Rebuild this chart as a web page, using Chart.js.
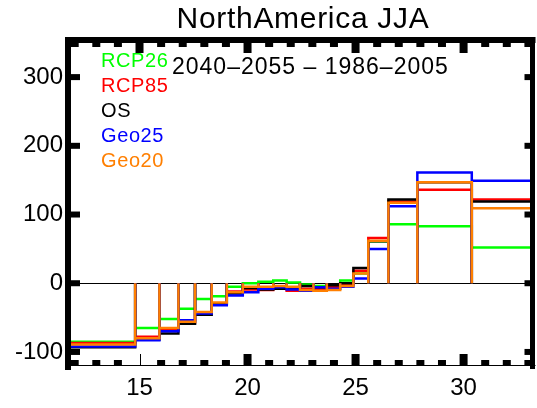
<!DOCTYPE html>
<html>
<head>
<meta charset="utf-8">
<script src="https://cdn.jsdelivr.net/npm/chart.js@4.4.6/dist/chart.umd.min.js"></script>
<style>
  html, body { margin: 0; padding: 0; background: #fff; }
  #wrap { width: 537px; height: 408px; position: relative; }
</style>
</head>
<body>
<div id="wrap"><canvas id="chart"></canvas></div>
<script>
// bin edges (x axis units) and the bin values for each run
const binEdges = [11.5, 14.8, 15.92, 16.8, 17.57, 18.34, 19.04, 19.78, 20.5, 21.19, 21.81,
  22.43, 23.05, 23.67, 24.29, 24.9, 25.59, 26.52, 27.86, 30.38, 34]
const rcp26 = [-85, -65, -52, -37, -23, -19, -5, 0, 2, 4, 1, -2, -4, -4, 4, 14, 61, 86, 83, 52]
const rcp85 = [-87, -78, -67, -57, -43, -29, -12, -9, -10, -6, -11, -8, -8, -5, -2, 18, 66, 119, 136, 122]
const os = [-93, -82, -73, -59, -46, -30, -15, -7, -9, -8, -7, -4, -6, -3, 0, 22, 61, 122, 147, 119]
const geo25 = [-92, -83, -70, -54, -44, -32, -18, -13, -8, -6, -9, -11, -6, -8, -5, 7, 50, 112, 161, 149]
const geo20 = [-89, -80, -65, -56, -42, -28, -13, -5, -5, -4, -5, -10, -11, -10, -4, 14, 62, 117, 147, 109]

const seriesNames = ["RCP26", "RCP85", "OS", "Geo25", "Geo20"]
const seriesColors = ["#00ff00", "#ff0000", "#000000", "#0000ff", "#ff7f00"]
const seriesValues = [rcp26, rcp85, os, geo25, geo20]

const xTicks = [15, 20, 25, 30]
const yTicks = [-100, 0, 100, 200, 300]
const xMinorTicks = [12, 13, 14, 16, 17, 18, 19, 21, 22, 23, 24, 26, 27, 28, 29, 31, 32, 33]

const titleText = "NorthAmerica JJA"
const subtitleText = "2040\u20132055 \u2013 1986\u20132005"
const FONT = "'Liberation Sans', Arial, Helvetica, sans-serif"

// each bin is an open box: up from zero, across, back down to zero
function histPoints(values) {
  const pts = []
  values.forEach((v, i) => {
    const x0 = binEdges[i], x1 = binEdges[i + 1]
    pts.push({ x: x0, y: 0 }, { x: x0, y: v }, { x: x1, y: v }, { x: x1, y: 0 })
  })
  return pts
}

// later series are drawn on top (Geo20 last), like the original plot
const datasets = seriesValues.map((values, i) => ({
  label: seriesNames[i],
  data: histPoints(values),
  order: seriesValues.length - i,
  borderColor: seriesColors[i],
  borderWidth: 2.5,
  pointRadius: 0,
  tension: 0,
  clip: 0,
  borderJoinStyle: "miter"
}))

function spacedText(ctx, text, x, y, spacing) {
  ctx.letterSpacing = spacing + "px"
  ctx.fillText(text, x, y)
  ctx.letterSpacing = "0px"
}

// IDL-style frame: thick left/top/right, thin bottom, heavy inward ticks
const framePlugin = {
  id: "frame",
  beforeDatasetsDraw(chart) {
    const { ctx, chartArea: a, scales } = chart
    const y0 = scales.y.getPixelForValue(0)
    ctx.save()
    ctx.strokeStyle = "#000"
    ctx.lineWidth = 1
    ctx.beginPath()
    ctx.moveTo(a.left, Math.round(y0) + 0.5)
    ctx.lineTo(a.right, Math.round(y0) + 0.5)
    ctx.stroke()
    ctx.restore()
  },
  afterDatasetsDraw(chart) {
    const { ctx, chartArea: a, scales } = chart
    ctx.save()
    ctx.fillStyle = "#000"
    // axes lines
    ctx.fillRect(a.left - 3, a.top - 3, a.right - a.left + 6, 6)
    ctx.fillRect(a.left - 3, a.top - 3, 6, a.bottom - a.top + 8)
    ctx.fillRect(a.right - 2.5, a.top - 3, 5, a.bottom - a.top + 7)
    ctx.fillRect(a.left - 3, a.bottom, a.right - a.left + 6, 1)
    // x ticks, bottom (pointing up) and top (pointing down)
    xTicks.forEach((v) => {
      const px = scales.x.getPixelForValue(v)
      if (v === 15) ctx.fillRect(Math.round(px), a.bottom - 11, 1, 11)
      else ctx.fillRect(px - 4, a.bottom - 11, 8, 11)
      ctx.fillRect(px - 4, a.top + 3, 8, 10)
    })
    xMinorTicks.forEach((v) => {
      const px = scales.x.getPixelForValue(v)
      ctx.fillRect(px - 4, a.bottom - 5, 8, 5)
      ctx.fillRect(px - 4, a.top + 3, 8, 4)
    })
    // y ticks, left and right
    yTicks.forEach((v) => {
      const py = scales.y.getPixelForValue(v)
      ctx.fillRect(a.left, py - 3, 12, 6)
      ctx.fillRect(a.right - 8, py - 3, 8, 6)
    })
    ctx.restore()
  },
  afterDraw(chart) {
    const { ctx } = chart
    ctx.save()
    ctx.textBaseline = "alphabetic"
    ctx.fillStyle = "#000"
    ctx.textAlign = "center"
    ctx.font = "30px " + FONT
    spacedText(ctx, titleText, 303, 28, 0.7)
    ctx.textAlign = "left"
    ctx.font = "23px " + FONT
    spacedText(ctx, subtitleText, 172, 74, 1)
    ctx.font = "20px " + FONT
    seriesNames.forEach((name, i) => {
      ctx.fillStyle = seriesColors[i]
      spacedText(ctx, name, 101, 67 + i * 25, 0.6)
    })
    ctx.restore()
  }
}

new Chart(document.getElementById("chart"), {
  type: "line",
  data: { datasets },
  plugins: [framePlugin],
  options: {
    responsive: true,
    maintainAspectRatio: false,
    animation: false,
    devicePixelRatio: 1,
    layout: { padding: { top: 40, right: 4.5, left: 0, bottom: 0 } },
    plugins: { legend: { display: false }, tooltip: { enabled: false } },
    scales: {
      x: {
        type: "linear",
        min: 11.69,
        max: 33.19,
        grid: { display: false, drawTicks: false },
        border: { display: false },
        afterBuildTicks: (scale) => { scale.ticks = xTicks.map((value) => ({ value })) },
        afterFit: (scale) => { scale.height = 43 },
        ticks: { color: "#000", padding: 11, maxRotation: 0, font: { family: FONT, size: 24, lineHeight: 1 } }
      },
      y: {
        min: -119,
        max: 354,
        grid: { display: false, drawTicks: false },
        border: { display: false },
        afterBuildTicks: (scale) => { scale.ticks = yTicks.map((value) => ({ value })) },
        afterFit: (scale) => { scale.width = 68 },
        ticks: { color: "#000", padding: 5, font: { family: FONT, size: 24, lineHeight: 1 } }
      }
    }
  }
})
</script>
</body>
</html>
